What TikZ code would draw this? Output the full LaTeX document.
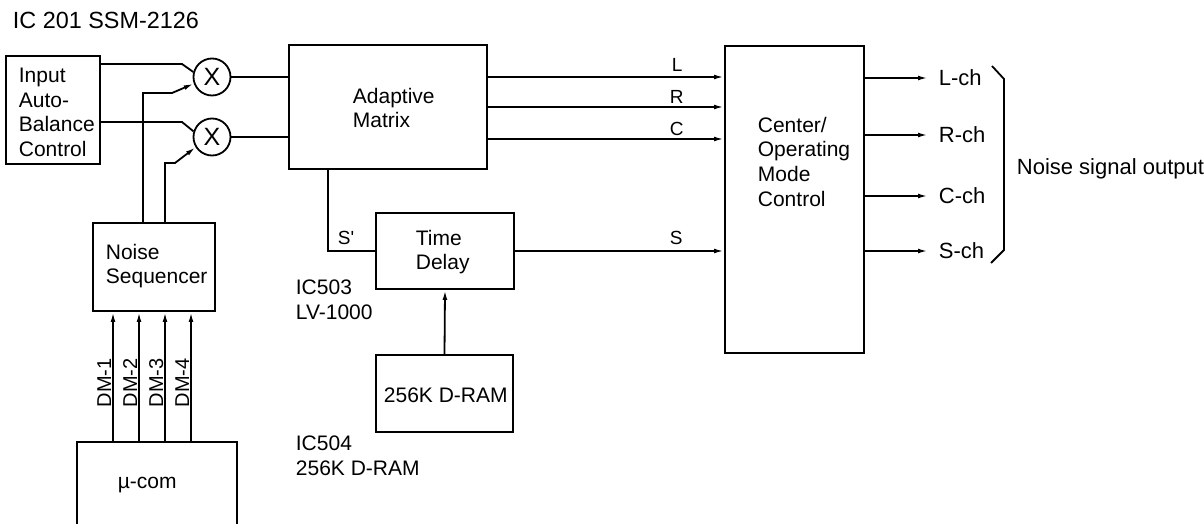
\documentclass[tikz,border=0pt]{standalone}
\usepackage{fontspec}
\setmainfont{Liberation Sans}
\usetikzlibrary{arrows.meta}
\begin{document}
\begin{tikzpicture}[x=0.5pt,y=-0.5pt,line width=0.9pt,
  every node/.style={font=\fontsize{10.5}{12.4}\selectfont},
  box/.style={draw,rectangle,inner sep=0pt},
  txt/.style={inner sep=0pt,align=left},
  small/.style={inner sep=0pt,font=\fontsize{9.5}{11}\selectfont},
  big/.style={inner sep=0pt,font=\fontsize{11}{13}\selectfont},
  dm/.style={inner sep=0pt,rotate=90,anchor=base west,font=\fontsize{10}{12}\selectfont},
  mix/.style={draw,circle,minimum size=18.5pt,inner sep=0pt,font=\fontsize{12.5}{14}\selectfont},
  arr/.style={-{Latex[length=5pt,width=2.4pt]}}]
\useasboundingbox (0,0) rectangle (1204,524);
\clip (0,0) rectangle (1204,524);

% title
\node[inner sep=0pt,anchor=base west,font=\fontsize{11.7}{14}\selectfont] (title) at (12,28.5) {IC 201 SSM-2126};

% boxes
\node[box,minimum width=47pt,minimum height=54pt] (inp) at (53,110) {};
\node[box,minimum width=61pt,minimum height=44pt] (ns) at (154,267) {};
\node[box,minimum width=80pt,minimum height=49pt] (mu) at (157,491) {};
\node[box,minimum width=99pt,minimum height=62pt] (am) at (388,107) {};
\node[box,minimum width=69pt,minimum height=38pt] (td) at (445,251) {};
\node[box,minimum width=68.5pt,minimum height=38.5pt] (dram) at (444.5,393.5) {};
\node[box,minimum width=69.5pt,minimum height=153.5pt] (cm) at (794.5,199.5) {};

% box texts
\node[txt,anchor=north west] (inptxt) at (18,67) {Input\\Auto-\\Balance\\Control};
\node[txt,anchor=north west] (nstxt) at (105,243) {Noise\\Sequencer};
\node[txt,anchor=base west] (mutxt) at (117,488) {µ-com};
\node[txt,anchor=north west] (amtxt) at (352,87) {Adaptive\\Matrix};
\node[txt,anchor=north west] (tdtxt) at (415,229) {Time\\Delay};
\node[txt,anchor=north west] (dramtxt) at (383,387) {256K D-RAM};
\node[txt,anchor=north west] (cmtxt) at (757,116) {Center/\\Operating\\Mode\\Control};

% mixers
\node[mix] (m1) at (212,77) {X};
\node[mix] (m2) at (212,137) {X};

% input box to mixers
\draw (inp.east |- 0,64) -- (182,64) -- (m1.165);
\draw (inp.east |- 0,122) -- (182,122) -- (m2.163);
% noise sequencer to mixers
\draw[arr] (ns.north -| 143,0) -- (143,93) -- (172,93) -- (m1.200);
\draw[arr] (ns.north -| 165,0) -- (165,163) -- (175,163) -- (m2.212);
% mixers to adaptive matrix
\draw (m1.east) -- (am.west |- m1.east);
\draw (m2.east) -- (am.west |- m2.east);

% adaptive matrix outputs
\draw[arr] (am.east |- 0,77) -- (cm.west |- 0,77);
\draw[arr] (am.east |- 0,107) -- (cm.west |- 0,107);
\draw[arr] (am.east |- 0,139) -- (cm.west |- 0,139);
\node[small,anchor=base west] (lL) at (671,72) {L};
\node[small,anchor=base west] (lR) at (669,104) {R};
\node[small,anchor=base west] (lC) at (669,135) {C};

% S' path
\draw (am.south -| 328,0) |- (td.west);
\node[small,anchor=base west] (lSp) at (337,244) {S\textquotesingle};
\draw[arr] (td.east) -- (cm.west |- td.east);
\node[small,anchor=base west] (lS) at (669,244) {S};

% D-RAM to time delay
\draw[arr] (dram.north) -- (td.south);

% IC labels
\node[txt,anchor=north west] (ic503) at (295,279) {IC503\\LV-1000};
\node[txt,anchor=north west] (ic504) at (295,435) {IC504\\256K D-RAM};

% DM arrows
\foreach \xx/\lab in {113/DM-1,139/DM-2,165/DM-3,191/DM-4}{
  \draw[arr] (mu.north -| \xx,0) -- (ns.south -| \xx,0);
  \node[dm] at (\xx-2,408) {\lab};
}

% outputs
\foreach \yy/\lab/\nm in {78/L-ch/o1,135/R-ch/o2,196/C-ch/o3,251/S-ch/o4}{
  \node[big,anchor=west] (\nm) at (938,\yy) {\lab};
  \draw[arr] (cm.east |- 0,\yy) -- (928,\yy);
}
\draw (992,66) -- (1004,79) -- (1004,250) -- (991,263);
\node[big,anchor=base west] (nso) at (1016,174) {Noise signal output};
\end{tikzpicture}
\end{document}
